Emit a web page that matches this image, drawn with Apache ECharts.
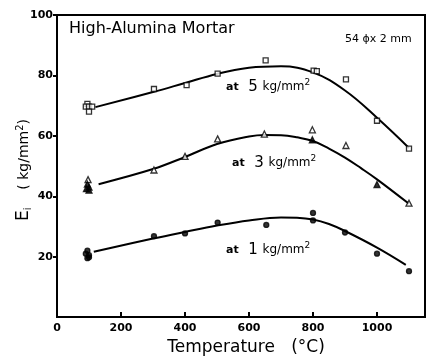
<!DOCTYPE html>
<html><head><meta charset="utf-8">
<script src="https://cdn.jsdelivr.net/npm/echarts@6/dist/echarts.min.js"></script>
<style>html,body{margin:0;padding:0;background:#fff}#c{width:430px;height:361px}</style>
</head><body><div id="c"></div>
<script>
// ---- data ----
const xTicks = [0, 200, 400, 600, 800, 1000];
const yTicks = [20, 40, 60, 80, 100];
// 5 kg/mm2 — open squares
const sq5 = [[95,70.6],[90,69.7],[100,69.7],[110,69.7],[100,68],[303,75.5],[405,76.8],[502,80.6],[652,85],[802,81.6],[812,81.4],[903,78.7],[1000,65],[1100,55.8]];
const fit5 = [[120,69.5],[300,74.5],[400,77.5],[500,80.5],[600,82.5],[700,83],[800,81],[900,75],[1000,66],[1100,56]];
// 3 kg/mm2 — triangles
const tri3Open = [[97,45.5],[303,48.7],[400,53.2],[502,59],[648,60.6],[798,62],[903,56.8],[1100,37.7]];
const tri3Filled = [[95,44],[100,43],[92,42.5],[100,42],[798,58.7],[1000,43.9]];
const fit3 = [[130,44],[300,49],[400,53],[500,57.3],[600,59.8],[650,60.3],[700,60.2],[750,59.5],[800,58.3],[850,55.8],[900,52.8],[950,49.3],[1000,45.6],[1100,37.5]];
// 1 kg/mm2 — dots
const dot1 = [[95,22],[90,21],[100,20.5],[95,19.5],[100,19.8],[303,26.8],[400,27.7],[502,31.3],[654,30.5],[800,34.5],[800,32],[900,28],[1000,21],[1100,15.2]];
const fit1 = [[115,21.6],[300,26],[400,28.2],[500,30.3],[600,32],[700,33],[750,32.9],[800,32.3],[850,30.8],[900,28.5],[1000,23],[1090,17.3]];

const chart = echarts.init(document.getElementById('c'));
const F = 'DejaVu Sans';
const lineS = (d) => ({type:'line', data:d, smooth:0.4, symbol:'none', lineStyle:{color:'#000', width:2}, z:2});
const scat = (d, sym, size, fill) => ({type:'scatter', data:d, symbol:sym, symbolSize:size,
  itemStyle:{color: fill ? '#000' : '#fff', borderColor:'#000', borderWidth:1.3}, z:3});
const tk = (v, t) => t.indexOf(v) >= 0;
const richAt = {a:{fontFamily:F,fontSize:11,fontWeight:'bold'},n:{fontFamily:F,fontSize:15},u:{fontFamily:F,fontSize:12},s:{fontFamily:F,fontSize:9,padding:[0,0,9,0]}};

chart.setOption({
  animation:false,
  grid:{left:57, right:5, top:15, bottom:36, show:true, borderColor:'#000', borderWidth:2},
  xAxis:{type:'value', min:0, max:1150, interval:200,
    axisLine:{show:true, lineStyle:{color:'#000', width:2}},
    axisTick:{show:true, inside:true, length:5, lineStyle:{color:'#000', width:2}},
    splitLine:{show:false},
    axisLabel:{color:'#000', fontFamily:F, fontSize:11, fontWeight:'bold', margin:6, showMaxLabel:false,
      formatter:v => tk(v, xTicks) ? String(v) : ''},
    name:'Temperature   (°C)', nameLocation:'middle', nameGap:21,
    nameTextStyle:{color:'#000', fontFamily:F, fontSize:17, padding:[0,0,0,10]}},
  yAxis:{type:'value', min:0, max:100, interval:20,
    axisLine:{show:true, lineStyle:{color:'#000', width:2}},
    axisTick:{show:true, length:4, lineStyle:{color:'#000', width:2}},
    splitLine:{show:false},
    axisLabel:{color:'#000', fontFamily:F, fontSize:11, fontWeight:'bold', margin:4, showMinLabel:false,
      formatter:v => tk(v, yTicks) ? String(v) : ''}},
  graphic:[
    {type:'text', left:69, top:21, style:{text:'High-Alumina Mortar', font:'16px "DejaVu Sans"', fill:'#000'}},
    {type:'text', left:345, top:34, style:{text:'54 ϕx 2 mm', font:'11px "DejaVu Sans"', fill:'#000'}},
    {type:'text', left:226, top:78, style:{rich:richAt, text:'{a|at}{n|  5 }{u|kg/mm}{s|2}'}},
    {type:'text', left:232, top:154, style:{rich:richAt, text:'{a|at}{n|  3 }{u|kg/mm}{s|2}'}},
    {type:'text', left:226, top:241, style:{rich:richAt, text:'{a|at}{n|  1 }{u|kg/mm}{s|2}'}},
    {type:'text', x:24, y:170, rotation:Math.PI/2, style:{align:'center', verticalAlign:'middle',
      rich:{e:{fontFamily:F,fontSize:17},i:{fontFamily:F,fontSize:10,padding:[9,0,0,0]},u:{fontFamily:F,fontSize:14},s:{fontFamily:F,fontSize:10,padding:[0,0,8,0]}},
      text:'{e|E}{i|i}{u|    ( kg/mm}{s|2}{u|)}'}}
  ],
  series:[
    lineS(fit5), lineS(fit3), lineS(fit1),
    scat(sq5, 'rect', 5, false),
    scat(tri3Open, 'triangle', 6, false),
    scat(tri3Filled, 'triangle', 6, true),
    scat(dot1, 'circle', 5, true)
  ]
});
</script></body></html>
